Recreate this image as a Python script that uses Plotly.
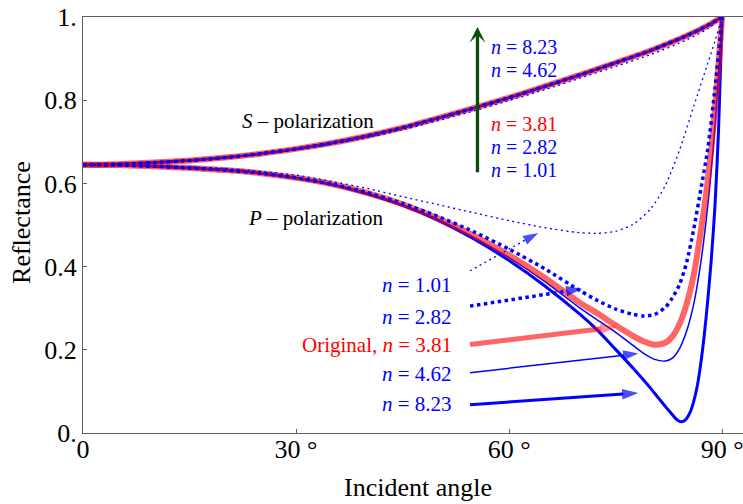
import plotly.graph_objects as go

# ---------------- data ----------------
ang_s = [0, 5, 10, 15, 20, 25, 30, 35, 40, 45, 50, 55, 60, 65, 70, 75, 80, 85, 88, 90]
rs_main = [0.645, 0.6463, 0.650, 0.655, 0.662, 0.6715, 0.683, 0.697, 0.714, 0.734, 0.757,
           0.781, 0.806, 0.833, 0.861, 0.890, 0.920, 0.955, 0.980, 1.0]
rs_n101 = [0.645, 0.6463, 0.650, 0.655, 0.661, 0.670, 0.681, 0.694, 0.710, 0.729, 0.751,
           0.774, 0.799, 0.825, 0.853, 0.881, 0.910, 0.945, 0.972, 1.0]

ang_p101 = [0, 5, 10, 15, 20, 25, 30, 35, 40, 45, 50, 55, 60, 65, 70, 72.5, 75, 77.5, 80, 82,
            84, 86, 88, 89, 90]
rp_n101 = [0.645, 0.6445, 0.643, 0.640, 0.636, 0.629, 0.620, 0.605, 0.588, 0.568, 0.549, 0.5295,
           0.5105, 0.4935, 0.4815, 0.480, 0.485, 0.502, 0.540, 0.595, 0.680, 0.785, 0.890, 0.943,
           1.0]

ang_p = [0, 5, 10, 15, 20, 25, 30, 35, 40, 45, 50, 55, 60, 65, 70, 72.5, 75, 77.5, 79, 80.5,
         82, 83, 84, 85, 86, 87, 88, 89, 90]
rp_n282 = [0.645, 0.644, 0.641, 0.637, 0.632, 0.6245, 0.6135, 0.5985, 0.578, 0.552, 0.5205,
           0.484, 0.442, 0.395, 0.342, 0.318, 0.298, 0.285, 0.281, 0.285, 0.302, 0.325, 0.357,
           0.410, 0.490, 0.585, 0.685, 0.830, 1.0]
rp_n381 = [0.645, 0.644, 0.641, 0.637, 0.632, 0.6245, 0.6135, 0.5985, 0.577, 0.5498, 0.5158,
           0.4751, 0.4276, 0.3734, 0.3127, 0.287, 0.259, 0.233, 0.220, 0.212, 0.217, 0.232,
           0.262, 0.310, 0.380, 0.485, 0.610, 0.780, 1.0]
rp_n462 = [0.645, 0.644, 0.641, 0.637, 0.632, 0.6245, 0.6135, 0.598, 0.576, 0.5483, 0.5134,
           0.471, 0.4214, 0.3645, 0.3002, 0.271, 0.242, 0.210, 0.191, 0.177, 0.173, 0.180,
           0.203, 0.245, 0.310, 0.410, 0.550, 0.740, 1.0]

ang_p823 = [0, 5, 10, 15, 20, 25, 30, 35, 40, 45, 50, 55, 60, 65, 70, 72.5, 75, 77.5, 79, 80,
            81, 82, 83, 83.5, 84, 84.5, 85, 85.5, 86, 86.5, 87, 87.5, 88, 88.5, 89, 89.5, 90]
rp_n823 = [0.645, 0.644, 0.641, 0.637, 0.632, 0.6245, 0.613, 0.5975, 0.575, 0.547, 0.511,
           0.467, 0.4145, 0.354, 0.285, 0.246, 0.201, 0.155, 0.126, 0.106, 0.085, 0.064, 0.044,
           0.034, 0.028, 0.028, 0.035, 0.050, 0.076, 0.113, 0.168, 0.238, 0.323, 0.423, 0.548,
           0.730, 1.0]

x_tickvals = [0, 30, 60, 90]
x_ticktext = ["0", "30 °", "60 °", "90 °"]
y_tickvals = [0, 0.2, 0.4, 0.6, 0.8, 1.0]
y_ticktext = ["0.", "0.2", "0.4", "0.6", "0.8", "1."]

# annotation arrows: [tail angle, tip angle], [tail R, tip R]
arrow_n101 = [[54.5, 64.1], [0.390, 0.481]]
arrow_n282 = [[54.5, 70.3], [0.305, 0.347]]
arrow_n381 = [[54.5, 75.15], [0.2125, 0.255]]
arrow_n462 = [[54.5, 78.2], [0.145, 0.191]]
arrow_n823 = [[54.5, 78.2], [0.068, 0.096]]
green_arrow = [[55.55, 55.55], [0.623, 0.976]]

labels_low = ["<i>n</i> = 1.01", "<i>n</i> = 2.82", "Original, <i>n</i> = 3.81",
              "<i>n</i> = 4.62", "<i>n</i> = 8.23"]
labels_low_y = [0.355, 0.278, 0.2125, 0.143, 0.069]
labels_up = ["<i>n</i> = 8.23", "<i>n</i> = 4.62", "<i>n</i> = 3.81",
             "<i>n</i> = 2.82", "<i>n</i> = 1.01"]
labels_up_y = [0.929, 0.8735, 0.742, 0.687, 0.632]
labels_color = ["#0000ff", "#0000ff", "#ff0000", "#0000ff", "#0000ff"]
labels_up_color = ["#0000ff", "#0000ff", "#ff0000", "#0000ff", "#0000ff"]

FONT = "Liberation Serif"
BLUE = "#0000ff"
RED = "#ff0000"
GREEN = "#0a4d0a"

fig = go.Figure()

def curve(x, y, color, width, dash="solid", opacity=1.0):
    fig.add_trace(go.Scatter(x=x, y=y, mode="lines", opacity=opacity,
                             line=dict(color=color, width=width, dash=dash,
                                       shape="spline", smoothing=0.7),
                             hoverinfo="skip", showlegend=False))

# solid blue curves
curve(ang_s, rs_main, BLUE, 1.5)
curve(ang_s, rs_main, BLUE, 3)
curve(ang_p, rp_n462, BLUE, 1.5)
curve(ang_p823, rp_n823, BLUE, 3)
# original (red, translucent)
curve(ang_s, rs_main, RED, 6, opacity=0.6)
curve(ang_p, rp_n381, RED, 6, opacity=0.6)
# dotted curves
curve(ang_s, rs_n101, BLUE, 1.3, dash="2px,3.5px")
curve(ang_p101, rp_n101, BLUE, 1.3, dash="2px,3.5px")
curve(ang_s, rs_main, BLUE, 3.5, dash="dot")
curve(ang_p, rp_n282, BLUE, 3.5, dash="dot")

def arrow(a, color, width, dash="solid", size=16, opacity=1.0):
    fig.add_trace(go.Scatter(x=a[0], y=a[1], mode="lines+markers", opacity=opacity,
                             line=dict(color=color, width=width, dash=dash),
                             marker=dict(symbol="arrow", size=[0, size], color=color,
                                         angleref="previous", line=dict(width=0)),
                             hoverinfo="skip", showlegend=False))

arrow(arrow_n101, BLUE, 1.3, dash="2px,3.5px", size=16)
arrow(arrow_n282, BLUE, 3.5, dash="dot", size=17)
arrow(arrow_n381, RED, 5, size=17, opacity=0.6)
arrow(arrow_n462, BLUE, 1.5, size=16)
arrow(arrow_n823, BLUE, 3, size=17)

annotations = []
# green vertical arrow
annotations.append(dict(x=green_arrow[0][1], y=green_arrow[1][1], ax=green_arrow[0][0],
                        ay=green_arrow[1][0], xref="x", yref="y", axref="x", ayref="y",
                        text="", showarrow=True, arrowhead=3, arrowsize=0.8,
                        arrowwidth=3.3, arrowcolor=GREEN))
for t, yv, c in zip(labels_low, labels_low_y, labels_color):
    annotations.append(dict(x=52.2, y=yv, xref="x", yref="y", text=t, showarrow=False,
                            xanchor="right", yanchor="middle",
                            font=dict(family=FONT, size=21, color=c)))
for t, yv, c in zip(labels_up, labels_up_y, labels_up_color):
    annotations.append(dict(x=57.2, y=yv, xref="x", yref="y", text=t, showarrow=False,
                            xanchor="left", yanchor="middle", height=18,
                            font=dict(family=FONT, size=20, color=c)))
annotations.append(dict(x=31.7, y=0.749, xref="x", yref="y", text="<i>S</i> – polarization",
                        showarrow=False, xanchor="center", yanchor="middle",
                        font=dict(family=FONT, size=21, color="black")))
annotations.append(dict(x=32.8, y=0.517, xref="x", yref="y", text="<i>P</i> – polarization",
                        showarrow=False, xanchor="center", yanchor="middle",
                        font=dict(family=FONT, size=21, color="black")))
annotations.append(dict(x=-0.0924, y=0.505, xref="paper", yref="paper", text="Reflectance",
                        textangle=-90, showarrow=False, xanchor="center", yanchor="middle",
                        font=dict(family=FONT, size=26, color="black")))
annotations.append(dict(x=0.5076, y=-0.132, xref="paper", yref="paper", text="Incident angle",
                        showarrow=False, xanchor="center", yanchor="middle",
                        font=dict(family=FONT, size=26, color="black")))

AXC = "#606060"
fig.update_layout(
    width=743, height=504, autosize=False,
    margin=dict(l=83, r=0, t=17, b=71),
    paper_bgcolor="white", plot_bgcolor="white",
    annotations=annotations,
    xaxis=dict(range=[0, 92.94], showline=True, linecolor=AXC, linewidth=1, mirror=True,
               showgrid=False, zeroline=False, ticks="inside", ticklen=4, tickcolor=AXC,
               tickvals=x_tickvals, ticktext=x_ticktext, ticklabeloverflow="allow",
               ticklabelstandoff=-7,
               tickfont=dict(family=FONT, size=26, color="black")),
    yaxis=dict(range=[0, 1], showline=True, linecolor=AXC, linewidth=1, mirror=False,
               showgrid=False, zeroline=False, ticks="inside", ticklen=4, tickcolor=AXC,
               tickvals=y_tickvals, ticktext=y_ticktext,
               tickfont=dict(family=FONT, size=26, color="black")),
)

fig.write_html("out.html")
